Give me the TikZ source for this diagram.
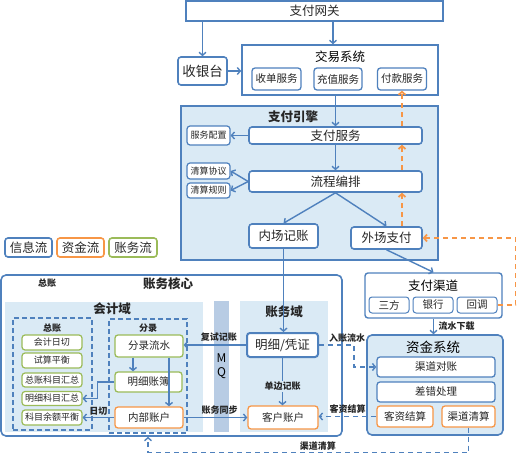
\documentclass[tikz,border=0pt]{standalone}
\usepackage{fontspec}
\setmainfont{Noto Sans CJK SC}
\usetikzlibrary{positioning, arrows.meta}
\definecolor{zblue}{RGB}{79,129,189}
\definecolor{zpale}{RGB}{218,234,245}
\definecolor{zmq}{RGB}{184,204,228}
\definecolor{zorange}{RGB}{247,150,70}
\definecolor{zgreen}{RGB}{155,187,89}

\begin{document}
\begin{tikzpicture}[
  x=1pt, y=-1pt,
  font=\fontsize{12.5}{14}\selectfont,
  box/.style={draw=zblue, line width=1.6pt, rounded corners=3pt, fill=white,
              inner sep=0pt, align=center, text=black!85},
  mbox/.style={box, line width=1.3pt, font=\fontsize{10.5}{12}\selectfont},
  sbox/.style={box, line width=1.2pt, font=\fontsize{9}{10}\selectfont},
  obox/.style={mbox, draw=zorange},
  gbox/.style={mbox, draw=zgreen},
  gsbox/.style={sbox, draw=zgreen, minimum width=60pt},
  dbox/.style={draw=zblue, line width=1.2pt, dashed, dash pattern=on 5pt off 3pt},
  area/.style={draw=zblue, line width=1.6pt, fill=zpale, inner sep=0pt},
  band/.style={inner sep=0pt},
  ttl/.style={font=\bfseries\fontsize{12.5}{14}\selectfont, text=black!85},
  lbl/.style={font=\bfseries\fontsize{9}{10}\selectfont, inner sep=1.5pt, text=black!85},
  barr/.style={-{Straight Barb[length=3pt, width=7pt]}, zblue, line width=1.4pt},
  bdarr/.style={barr, dashed, dash pattern=on 5pt off 4pt},
  oarr/.style={-{Straight Barb[length=3pt, width=7pt]}, zorange, line width=1.8pt,
               dashed, dash pattern=on 5pt off 4pt},
]
\useasboundingbox (0,0) rectangle (520,455);

% gateway, cashier, trade
\node[box, sharp corners, minimum width=257pt, minimum height=20pt] (gw) at (314.5,11) {支付网关};
\node[box, minimum width=49pt, minimum height=28pt, font=\fontsize{13.5}{14}\selectfont] (cashier) at (202.5,71) {收银台};
\node[box, sharp corners, minimum width=196pt, minimum height=50pt] (trade) at (340,70) {};
\node (tradett) at (340,57) {交易系统};
\node[mbox, minimum width=49pt, minimum height=22pt] (acq) at (276.5,79) {收单服务};
\node[mbox, minimum width=48pt, minimum height=22pt] (topup) at (338,79) {充值服务};
\node[mbox, minimum width=49pt, minimum height=22pt] (payout) at (402,79) {付款服务};

% payment engine
\node[area, minimum width=257pt, minimum height=154pt] (engine) at (309.5,183) {};
\node[ttl] (enginett) at (293,117) {支付引擎};
\node[box, minimum width=173pt, minimum height=17pt] (paysvc) at (335.5,135.5) {支付服务};
\node[sbox, minimum width=43pt, minimum height=19pt] (svccfg) at (208.5,135.5) {服务配置};
\node[box, minimum width=173pt, minimum height=21pt] (flow) at (335.5,181.5) {流程编排};
\node[sbox, minimum width=43pt, minimum height=16pt] (clrproto) at (208.5,171) {清算协议};
\node[sbox, minimum width=43pt, minimum height=15pt] (clrrule) at (208.5,190.5) {清算规则};
\node[box, minimum width=69pt, minimum height=24pt] (inner) at (283.5,236) {内场记账};
\node[box, minimum width=71pt, minimum height=22pt] (outer) at (386.5,238) {外场支付};

% legend
\node[box, minimum width=47pt, minimum height=19pt] (lginfo) at (28.5,247.5) {信息流};
\node[box, draw=zorange, minimum width=47pt, minimum height=19pt] (lgfund) at (80.5,247.5) {资金流};
\node[box, draw=zgreen, minimum width=48pt, minimum height=19pt] (lgacct) at (133,247.5) {账务流};

% payment channel
\node[box, line width=1.4pt, minimum width=137pt, minimum height=45pt] (chan) at (433.5,295.5) {};
\node (chantt) at (433,286) {支付渠道};
\node[mbox, line width=1pt, minimum width=40pt, minimum height=16pt] (ch3p) at (389,305) {三方};
\node[mbox, line width=1pt, minimum width=40pt, minimum height=16pt] (chbank) at (433,305) {银行};
\node[mbox, line width=1pt, minimum width=40pt, minimum height=16pt] (chcb) at (477,305) {回调};

% fund system
\node[area, rounded corners=5pt, minimum width=136pt, minimum height=100pt] (fund) at (435,385) {};
\node[font=\fontsize{13.5}{14}\selectfont] (fundtt) at (433,347) {资金系统};
\node[mbox, minimum width=118pt, minimum height=20pt] (recon) at (436,367) {渠道对账};
\node[mbox, minimum width=118pt, minimum height=20pt] (errfix) at (436,392) {差错处理};
\node[obox, minimum width=56pt, minimum height=21pt] (custset) at (405,416.5) {客资结算};
\node[obox, minimum width=53pt, minimum height=21pt] (chclear) at (468.5,416.5) {渠道清算};

% accounting core
\node[box, rounded corners=5pt, minimum width=341pt, minimum height=161pt] (core) at (171.5,355.5) {};
\node[ttl] (corett) at (168,284) {账务核心};
\node[lbl] (coregl) at (47,283) {总账};
\node[band, fill=zpale, minimum width=198pt, minimum height=130pt] (accdom) at (104,367) {};
\node[ttl] (accdomtt) at (112,309) {会计域};
\node[band, fill=zmq, minimum width=15pt, minimum height=131pt, align=center,
      font=\fontsize{12}{13}\selectfont] (mq) at (221.5,366.5) {M\\[1pt]Q};
\node[band, fill=zpale, minimum width=88pt, minimum height=131pt] (ledgdom) at (284,366.5) {};
\node[ttl] (ledgdomtt) at (284,312) {账务域};
\node[box, line width=2pt, minimum width=71pt, minimum height=24pt] (detail) at (282.5,345) {明细/凭证};
\node[obox, minimum width=70pt, minimum height=23pt] (custacc) at (283,417.5) {客户账户};

% general ledger
\node[dbox, minimum width=79pt, minimum height=112pt] (gl) at (52.5,374) {};
\node[lbl] (gltt) at (52,328) {总账};
\node[gsbox, minimum height=15pt] (gl1) at (52,342.5) {会计日切};
\node[gsbox, minimum height=15pt] (gl2) at (52,360.5) {试算平衡};
\node[gsbox, minimum height=14pt] (gl3) at (52,380) {总账科目汇总};
\node[gsbox, minimum height=14pt] (gl4) at (52,398.5) {明细科目汇总};
\node[gsbox, minimum height=15pt] (gl5) at (52,417.5) {科目余额平衡};

% entries
\node[dbox, minimum width=78pt, minimum height=114pt] (entries) at (148,376) {};
\node[lbl] (entriestt) at (148,328) {分录};
\node[gbox, minimum width=68pt, minimum height=22pt] (entry) at (149,346) {分录流水};
\node[gbox, minimum width=67pt, minimum height=20pt] (detbook) at (148.5,382) {明细账簿};
\node[obox, minimum width=68pt, minimum height=21pt] (intacct) at (149,417.5) {内部账户};

% info flow
\draw[barr] (gw.south -| cashier.north) -- (cashier.north);
\draw[barr] (cashier.east) -- (cashier.east -| trade.west);
\draw[barr] ([xshift=18.5pt]gw.south) -- ([xshift=-7pt]trade.north);
\draw[barr] (paysvc.north |- trade.south) -- (paysvc.north);
\draw[barr] (paysvc.west) -- (svccfg.east);
\draw[barr] (paysvc.south) -- (flow.north);
\draw[barr] (flow.west) -- (clrproto.east);
\draw[barr] (flow.west) -- (clrrule.east);
\draw[barr] (flow.south) -- (inner.north);
\draw[barr] (flow.south) -- (outer.north);
\draw[barr] (outer.south) -- (chan.north);
\draw[barr] (chan.south) -- (chan.south |- fund.north) node[midway, right, lbl, xshift=3pt] {流水下载};
\draw[barr] (inner.south) -- (inner.south |- detail.north);
\draw[barr] (detail.south) -- (detail.south |- custacc.north) node[pos=0.6, lbl, fill=zpale] {单边记账};
\draw[barr] (detail.west) -- (detail.west -| entry.east) node[midway, above, lbl, yshift=1pt, xshift=4pt] {复试记账};
\draw[barr] (intacct.east) -- (intacct.east -| custacc.west) node[midway, above, lbl, yshift=1pt, xshift=4pt] {账务同步};
\draw[barr] ([xshift=-16pt]entry.south) -- ([xshift=-15.5pt]detbook.north);
\draw[barr] ([xshift=20pt]entry.south) -- ([xshift=20pt]intacct.north);
\draw[barr] (detbook.west) -- ++(-17,0) |- (gl4.east);
\draw[barr] (intacct.west) -- (intacct.west -| gl5.east) node[midway, above, lbl] {日切};

% dashed flows
\draw[bdarr] (detail.east) -- ++(35,0) node[above, xshift=-7pt, lbl] {入账流水} |- (recon.west);
\draw[bdarr] (custset.west) -- (custset.west -| custacc.east) node[midway, above, lbl, yshift=1pt] {客资结算};
\draw[bdarr] (chclear.south) -- ++(0,25) -| ([xshift=-23.5pt]core.south) node[pos=0.235, above, lbl] {渠道清算};

% fund flow
\draw[oarr] (payout.south |- outer.north) -- (payout.south |- flow.south);
\draw[oarr] (payout.south |- flow.north) -- (payout.south |- paysvc.south);
\draw[oarr] (payout.south |- paysvc.north) -- (payout.south);
\draw[oarr] (chcb.east) -- ++(18,0) |- (outer.east);
\end{tikzpicture}
\end{document}
